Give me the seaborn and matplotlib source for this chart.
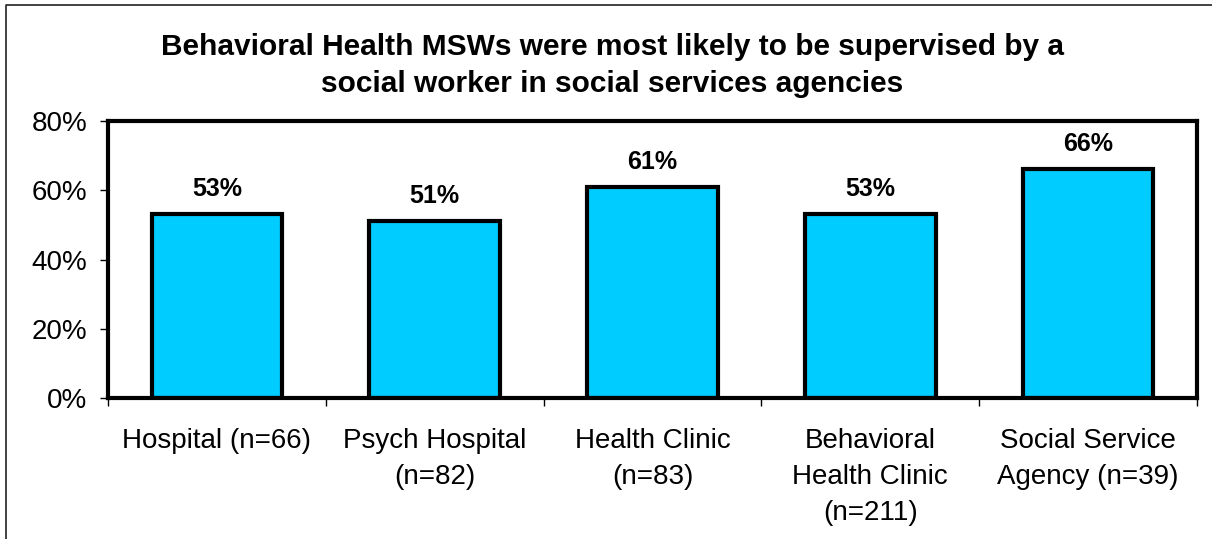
import matplotlib
matplotlib.use("Agg")
import matplotlib.pyplot as plt
from matplotlib.lines import Line2D
from matplotlib.ticker import FixedLocator, PercentFormatter
import seaborn as sns
import pandas as pd

# Chart data
categories = [
    "Hospital (n=66)",
    "Psych Hospital\n(n=82)",
    "Health Clinic\n(n=83)",
    "Behavioral\nHealth Clinic\n(n=211)",
    "Social Service\nAgency (n=39)",
]
supervised_pct = [53, 51, 61, 53, 66]
y_ticks = [0, 20, 40, 60, 80]
title = ("Behavioral Health MSWs were most likely to be supervised by a\n"
         "social worker in social services agencies")

sns.set_style("white")
plt.rcParams["font.family"] = ["Liberation Sans", "DejaVu Sans"]
plt.rcParams["text.color"] = "black"
plt.rcParams["xtick.color"] = "black"
plt.rcParams["ytick.color"] = "black"
plt.rcParams["xtick.labelcolor"] = "black"
plt.rcParams["ytick.labelcolor"] = "black"

df = pd.DataFrame({"setting": categories, "pct": supervised_pct})

fig = plt.figure(figsize=(12.12, 5.39), dpi=100)
ax = fig.add_axes([108 / 1212, 141 / 539, 1089 / 1212, 277 / 539])

sns.barplot(data=df, x="setting", y="pct", ax=ax, color="#00CCFF",
            saturation=1, width=0.6, edgecolor="black", linewidth=3)

ax.set_ylim(0, 80)
ax.set_xlim(-0.5, len(categories) - 0.5)
ax.yaxis.set_major_locator(FixedLocator(y_ticks))
ax.yaxis.set_major_formatter(PercentFormatter(decimals=0))
ax.set_xlabel("")
ax.set_ylabel("")

# Frame
for sp in ax.spines.values():
    sp.set_visible(True)
    sp.set_color("black")
    sp.set_linewidth(3)

ax.tick_params(axis="y", which="major", direction="out", length=6, width=1,
               color="black", labelsize=20, pad=9, left=True)
ax.tick_params(axis="x", which="major", length=0, labelsize=20, pad=21.5)
ax.set_xticks(range(len(categories)))
ax.set_xticklabels(categories, linespacing=1.5, va="top")
ax.xaxis.set_minor_locator(FixedLocator([i - 0.5 for i in range(len(categories) + 1)]))
ax.tick_params(axis="x", which="minor", direction="out", length=6, width=1,
               color="black", bottom=True)

# Value labels above each bar
for i, v in enumerate(supervised_pct):
    ax.annotate(f"{v}%", xy=(i, v), xytext=(0, 13), textcoords="offset points",
                ha="center", va="baseline", fontsize=18, fontweight="bold",
                color="black")

fig.text(0.505, 0.879, title, ha="center", va="center", fontsize=21.5,
         fontweight="bold", linespacing=1.4, color="black")

# Outer border (top and left edges)
fx = 6 / 1212
fy = 1 - 5 / 539
fig.add_artist(Line2D([fx, fx, 1.0], [0.0, fy, fy], transform=fig.transFigure,
                      color="#222222", linewidth=1.2))

fig.savefig("out.png", dpi=100)
